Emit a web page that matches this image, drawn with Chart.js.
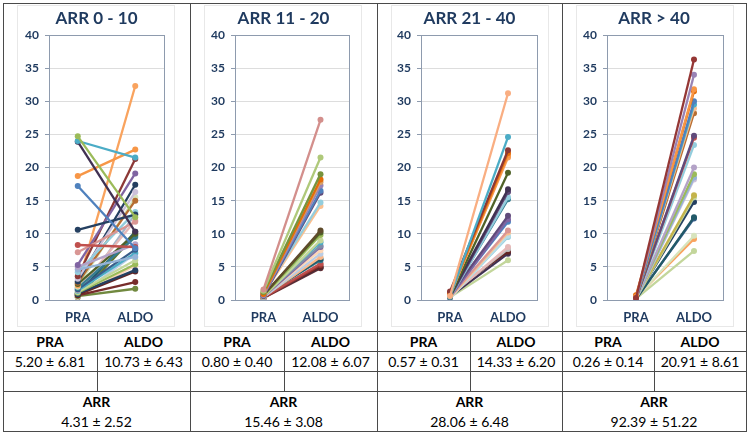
<!DOCTYPE html>
<html>
<head>
<meta charset="utf-8">
<script src="https://cdn.jsdelivr.net/npm/chart.js@4/dist/chart.umd.min.js"></script>
<style>
  body { margin: 0; background: #fff; font-family: Lato, "Open Sans", sans-serif; }
  #wrap { position: relative; width: 750px; height: 435px; }
  .frame { position: absolute; border: 1px solid #e8e8e8; box-sizing: border-box; }
  canvas { position: absolute; }
  .ln { position: absolute; background: #4a4a4a; }
  .cell { position: absolute; display: flex; align-items: center; justify-content: center;
          font-size: 14px; color: #000; white-space: nowrap; }
  .cell.b { font-weight: bold; }
</style>
</head>
<body>
<div id="wrap"></div>
<script>
// --- data ---
const categories = ['PRA', 'ALDO'];
const panelTitles = ['ARR 0 - 10', 'ARR 11 - 20', 'ARR 21 - 40', 'ARR > 40'];
const yMax = 40;
const yStep = 5;

const pra1 = [24.7, 24.0, 23.9, 18.7, 17.2, 10.6, 8.3, 7.2, 5.3, 5.0, 4.6, 4.2, 3.6, 3.2, 2.8, 2.6, 2.4, 2.2, 2.0, 1.8, 1.6, 1.5, 1.4, 1.2, 1.1, 1.0, 0.9, 0.8, 0.7, 0.6, 0.6, 0.5, 0.5, 0.4];
const aldo1 = [12.5, 21.5, 10.3, 22.7, 7.8, 12.9, 8.0, 11.8, 19.1, 8.4, 6.5, 13.3, 21.3, 16.3, 17.4, 15.0, 10.0, 32.3, 15.5, 9.5, 7.6, 12.0, 7.1, 6.0, 5.4, 4.5, 10.3, 4.3, 2.7, 1.7, 7.0, 5.2, 13.0, 9.8];

const pra2 = [1.6, 1.4, 1.2, 0.9, 1.0, 0.7, 0.8, 0.6, 1.1, 0.9, 0.7, 0.8, 0.6, 0.5, 0.9, 0.7, 0.5, 0.6, 0.4, 0.5, 0.6, 0.8, 0.4, 0.3, 0.5, 0.4, 0.3];
const aldo2 = [27.2, 21.5, 19.0, 18.2, 17.8, 17.3, 16.5, 16.2, 14.7, 14.2, 10.5, 10.2, 9.8, 9.0, 8.7, 8.2, 8.0, 7.5, 7.0, 6.5, 6.2, 6.0, 5.5, 5.3, 5.0, 4.9, 4.8];

const pra3 = [0.6, 0.5, 1.3, 0.9, 0.7, 0.8, 0.5, 0.6, 0.4, 0.3, 0.5, 0.7, 0.4, 0.6, 0.5, 0.3, 0.2, 0.4, 0.6, 0.8, 1.1, 0.5, 0.4];
const aldo3 = [31.2, 24.6, 22.6, 22.2, 21.8, 21.5, 19.2, 16.7, 16.3, 15.5, 15.2, 12.7, 12.2, 11.8, 10.5, 10.2, 9.7, 9.5, 8.0, 7.7, 7.3, 7.0, 6.0];

const pra4 = [0.3, 0.2, 0.5, 0.7, 0.2, 0.3, 0.4, 0.1, 0.2, 0.3, 0.1, 0.2, 0.3, 0.2, 0.1, 0.4, 0.2, 0.3, 0.1, 0.2, 0.3, 0.4, 0.2];
const aldo4 = [36.3, 34.0, 31.8, 31.5, 30.0, 29.5, 28.9, 28.2, 24.8, 24.5, 23.4, 20.0, 19.0, 18.5, 18.2, 15.8, 15.5, 14.8, 12.5, 12.3, 9.7, 9.2, 7.4];

const praSummary = ['5.20 ± 6.81', '0.80 ± 0.40', '0.57 ± 0.31', '0.26 ± 0.14'];
const aldoSummary = ['10.73 ± 6.43', '12.08 ± 6.07', '14.33 ± 6.20', '20.91 ± 8.61'];
const arrSummary = ['4.31 ± 2.52', '15.46 ± 3.08', '28.06 ± 6.48', '92.39 ± 51.22'];

// --- styles ---
const colors1 = ['#9BBB59', '#4BACC6', '#403152', '#F79646', '#4F81BD', '#254061', '#C0504D', '#D99694', '#8064A2', '#B3A2C7',
  '#95B3D7', '#93CDDD', '#8C3836', '#CCC1DA', '#243F60', '#B66D31', '#4F6228', '#F9A35E', '#D7E4BD', '#357D91',
  '#385D8A', '#E6B9B8', '#4BACC6', '#C3D69B', '#9BBB59', '#254061', '#215968', '#632523', '#772C2A', '#71893F',
  '#B9CDE5', '#FCD5B5', '#A6B5C8', '#5F7530'];
const colors2 = ['#D38F8C', '#AFC97A', '#77933C', '#E46C0A', '#D9A066', '#9983B5', '#4F81BD', '#604A7B', '#93CDDD', '#FAC090',
  '#5F4B2B', '#4F6228', '#9BBB59', '#C3D69B', '#4BACC6', '#7F8FA9', '#8064A2', '#FCD5B5', '#B9CDE5', '#F9B88A',
  '#215968', '#357D91', '#C0504D', '#953735', '#632523', '#254061', '#772C2A'];
const colors3 = ['#F9AE82', '#4BACC6', '#8C3836', '#E46C0A', '#F79646', '#FA9F5C', '#4F6228', '#403152', '#5C4776', '#93CDDD',
  '#357D91', '#604A7B', '#8064A2', '#4F81BD', '#D99694', '#FAC090', '#B7DEE8', '#93CDDD', '#E6B9B8', '#BFBFBF',
  '#632523', '#403152', '#C3D69B'];
const colors4 = ['#953735', '#9983B5', '#F79646', '#E46C0A', '#4F81BD', '#4BACC6', '#FAC090', '#B66D31', '#604A7B', '#C0504D',
  '#93CDDD', '#B3A2C7', '#9BBB59', '#95B3D7', '#CCC1DA', '#C4B44B', '#C3D69B', '#254061', '#215968', '#385D8A',
  '#D7E4BD', '#F9A35E', '#C3D69B'];

const NAVY = '#1F3A5F';
const FRAME = '#8E9BAE';

// panel geometry: canvas left/width, y-axis width, right gap
const panels = [
  { x: 4, w: 185, yw: 45, rw: 25, pra: pra1, aldo: aldo1, colors: colors1 },
  { x: 191, w: 185, yw: 44, rw: 27, pra: pra2, aldo: aldo2, colors: colors2 },
  { x: 378, w: 183, yw: 43, rw: 24, pra: pra3, aldo: aldo3, colors: colors3 },
  { x: 563, w: 182, yw: 44, rw: 22, pra: pra4, aldo: aldo4, colors: colors4 }
];

const wrap = document.getElementById('wrap');

// plot-area border, drawn under the lines
const plotFrame = {
  id: 'plotFrame',
  beforeDatasetsDraw(chart) {
    const a = chart.chartArea, c = chart.ctx;
    c.save();
    c.strokeStyle = FRAME;
    c.lineWidth = 1;
    c.strokeRect(Math.round(a.left) + 0.5, Math.round(a.top) + 0.5, Math.round(a.right - a.left), Math.round(a.bottom - a.top));
    c.restore();
  }
};

panels.forEach((p, i) => {
  const fr = document.createElement('div');
  fr.className = 'frame';
  fr.style.left = (p.x + 13) + 'px';
  fr.style.top = '5px';
  fr.style.width = '158px';
  fr.style.height = '322px';
  wrap.appendChild(fr);

  const cv = document.createElement('canvas');
  cv.width = p.w;
  cv.height = 326;
  cv.style.left = p.x + 'px';
  cv.style.top = '4px';
  wrap.appendChild(cv);

  new Chart(cv.getContext('2d'), {
    type: 'line',
    data: {
      labels: categories,
      datasets: p.pra.map((v, k) => ({
        data: [v, p.aldo[k]],
        borderColor: p.colors[k],
        backgroundColor: p.colors[k],
        borderWidth: 2.3,
        pointRadius: 3,
        pointBorderWidth: 0
      }))
    },
    options: {
      responsive: false,
      animation: false,
      layout: { padding: 0 },
      plugins: {
        legend: { display: false },
        tooltip: { enabled: false },
        title: {
          display: true,
          text: panelTitles[i],
          color: NAVY,
          font: { family: 'Lato', size: 17, weight: 'bold', lineHeight: 1.2 },
          padding: { top: 4, bottom: 6.6 }
        }
      },
      scales: {
        x: {
          offset: true,
          grid: { display: false, drawTicks: false },
          border: { display: false },
          ticks: { color: NAVY, font: { family: 'Lato', size: 13, weight: 'bold' }, padding: 10 },
          afterFit: s => { s.height = 30; }
        },
        y: {
          min: 0,
          max: yMax,
          ticks: { stepSize: yStep, color: NAVY, font: { family: 'Lato', size: 12, weight: 'bold' }, padding: 6 },
          grid: { color: '#DDDDDD', tickColor: FRAME, tickLength: 4 },
          border: { color: FRAME },
          afterFit: s => { s.width = p.yw; }
        },
        y2: {
          position: 'right',
          min: 0,
          max: yMax,
          grid: { display: false, drawTicks: false },
          ticks: { display: false },
          border: { display: false },
          afterFit: s => { s.width = p.rw; }
        }
      }
    },
    plugins: [plotFrame]
  });
});

// --- table below the charts ---
const colEdges = [3, 190, 377, 562, 746];
const rowEdges = [331, 351, 371, 391, 411, 431];
function line(x, y, w, h) {
  const d = document.createElement('div');
  d.className = 'ln';
  d.style.left = x + 'px'; d.style.top = y + 'px';
  d.style.width = w + 'px'; d.style.height = h + 'px';
  wrap.appendChild(d);
}
function cell(x0, x1, y0, y1, text, bold) {
  const d = document.createElement('div');
  d.className = 'cell' + (bold ? ' b' : '');
  d.style.left = x0 + 'px'; d.style.top = y0 + 'px';
  d.style.width = (x1 - x0) + 'px'; d.style.height = (y1 - y0) + 'px';
  d.textContent = text;
  wrap.appendChild(d);
}

const R = rowEdges;
for (let i = 0; i < 4; i++) {
  const l = colEdges[i], r = colEdges[i + 1], m = Math.round((l + r) / 2);
  cell(l, m, R[0], R[1], 'PRA', true);
  cell(m, r, R[0], R[1], 'ALDO', true);
  cell(l, m, R[1], R[2], praSummary[i], false);
  cell(m, r, R[1], R[2], aldoSummary[i], false);
  cell(l, r, R[3], R[4], 'ARR', true);
  cell(l, r, R[4], R[5], arrSummary[i], false);
  line(m, R[0], 1, R[3] - R[0]);
}
[R[0], R[1], R[2], R[3]].forEach(y => line(3, y, 744, 1));
[190, 377, 562].forEach(x => line(x, 3, 1, R[5] - 3));
// outer border
line(3, 3, 744, 1);
line(3, R[5], 744, 1);
line(3, 3, 1, R[5] - 2);
line(746, 3, 1, R[5] - 2);
</script>
</body>
</html>
